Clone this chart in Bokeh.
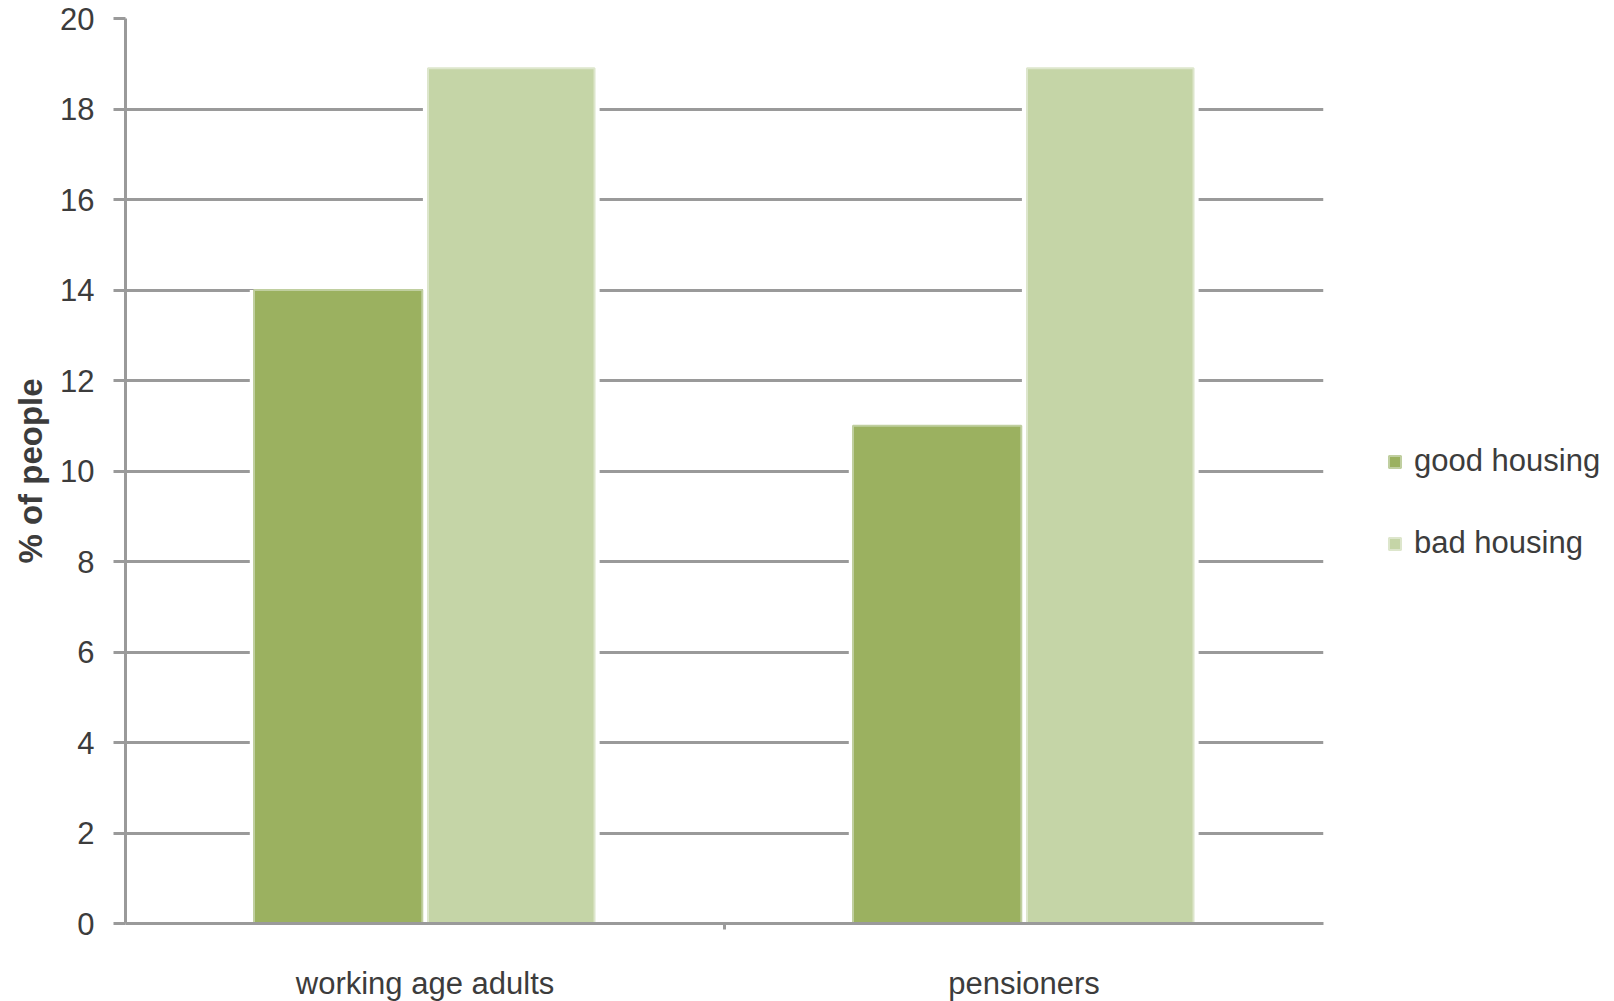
from bokeh.plotting import figure
from bokeh.models import (ColumnDataSource, FactorRange, Range1d, CategoricalAxis,
                          FixedTicker, Legend, LegendItem)
from bokeh.transform import dodge
from bokeh.embed import file_html
from bokeh.resources import INLINE

categories = ["working age adults", "pensioners"]
good_housing = [14, 11]
bad_housing = [18.9, 18.9]
y_ticks = [0, 2, 4, 6, 8, 10, 12, 14, 16, 18, 20]
boundaries = ["b0", "b1", "b2"]

src = ColumnDataSource(dict(cat=categories, good=good_housing, bad=bad_housing))

FONT = "Liberation Sans"
TXT = "#3c3c3c"
GRID = "#9a9a9a"

p = figure(frame_width=1198, frame_height=905, output_backend="svg", toolbar_location=None,
           x_range=FactorRange(*categories, range_padding=0), y_range=Range1d(0, 20),
           x_axis_location=None, min_border_left=125, min_border_top=18,
           min_border_right=0, min_border_bottom=0)
p.outline_line_color = None
p.xgrid.grid_line_color = None
p.ygrid.grid_line_color = GRID
p.ygrid.grid_line_width = 3
p.ygrid.ticker = FixedTicker(ticks=y_ticks)

# tick marks at category boundaries
p.extra_x_ranges = {"b": FactorRange(*boundaries, range_padding=-1, range_padding_units="absolute")}
tick_axis = CategoricalAxis(x_range_name="b",
                            major_label_text_font_size="0px", axis_line_color=GRID, axis_line_width=3,
                            major_tick_line_color=GRID, major_tick_line_width=3,
                            major_tick_out=6, major_tick_in=0, minor_tick_line_color=None,
                            major_label_standoff=0)
p.add_layout(tick_axis, "below")
cat_axis = CategoricalAxis(axis_line_color=None, major_tick_line_color=None,
                           minor_tick_line_color=None, major_label_standoff=30,
                           major_label_text_font=FONT, major_label_text_font_size="31px",
                           major_label_text_color=TXT)
p.add_layout(cat_axis, "below")

ya = p.yaxis[0]
ya.ticker = FixedTicker(ticks=y_ticks)
ya.axis_line_color = GRID
ya.axis_line_width = 3
ya.major_tick_line_color = GRID
ya.major_tick_line_width = 3
ya.major_tick_out = 12
ya.major_tick_in = 0
ya.minor_tick_line_color = None
ya.major_label_standoff = 19
ya.major_label_text_font = FONT
ya.major_label_text_font_size = "31px"
ya.major_label_text_color = TXT
ya.axis_label = "% of people"
ya.axis_label_text_font = FONT
ya.axis_label_text_font_style = "bold"
ya.axis_label_text_font_size = "33px"
ya.axis_label_text_color = TXT
ya.axis_label_standoff = 8

# white halo behind bars
for off, col in [(-0.145, "good"), (0.144, "bad")]:
    p.vbar(x=dodge("cat", off, range=p.x_range), top=col, width=0.295, source=src,
           fill_color="white", line_color=None)
r1 = p.vbar(x=dodge("cat", -0.145, range=p.x_range), top="good", width=0.281, source=src,
            fill_color="#9bb160", line_color="#c0cfa0", line_width=2)
r2 = p.vbar(x=dodge("cat", 0.144, range=p.x_range), top="bad", width=0.278, source=src,
            fill_color="#c5d5a7", line_color="#dde6cc", line_width=2)

legend = Legend(items=[LegendItem(label="good housing", renderers=[r1]),
                       LegendItem(label="bad housing", renderers=[r2])],
                location=(64, 362), orientation="vertical",
                glyph_width=15, glyph_height=15, label_standoff=12,
                label_text_font=FONT, label_text_font_size="31px", label_text_color=TXT,
                label_height=36, spacing=46, border_line_color=None,
                background_fill_alpha=0, padding=0, margin=0)
p.add_layout(legend, "right")

open("out.html", "w").write(file_html(p, INLINE))
